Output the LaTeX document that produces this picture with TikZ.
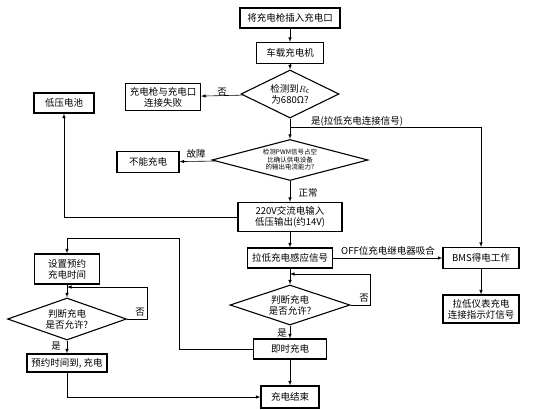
\documentclass[tikz,border=0pt]{standalone}
\usepackage{fontspec}
\usepackage{tikz}
\usetikzlibrary{shapes.geometric, arrows}
\setmainfont{Noto Sans CJK SC}

\begin{document}
\begin{tikzpicture}[
    x=1pt, y=-1pt,
    font=\fontsize{9.5}{11}\selectfont,
    stepbox/.style={rectangle, draw, line width=1.1pt, align=center, inner sep=1pt},
    decision/.style={diamond, draw, line width=1.1pt, align=center, inner sep=0pt},
    arrow/.style={line width=0.6pt,->,>=latex},
    line/.style={line width=0.6pt},
    tag/.style={inner sep=1pt}
]
\useasboundingbox (0,0) rectangle (534,409);

% Main column
\node[stepbox, minimum width=100pt, minimum height=20pt] (plug) at (290,18) {将充电枪插入充电口};
\node[stepbox, minimum width=67pt, minimum height=21pt] (obc) at (290,53) {车载充电机};
\node[decision, aspect=2, minimum width=98pt, minimum height=48pt] (checkrc) at (290,94) {检测到$R_\mathrm{c}$\\为680Ω?};
\node[decision, aspect=3.8, minimum width=156pt, minimum height=41pt, font=\fontsize{6.5}{7.5}\selectfont] (checkpwm) at (290,160) {检测PWM信号占空\\比确认供电设备\\的输出电流能力?};
\node[stepbox, minimum width=104pt, minimum height=29pt] (acin) at (290,217) {220V交流电输入\\低压输出(约14V)};
\node[stepbox, minimum width=85pt, minimum height=20pt] (sense) at (290,258) {拉低充电感应信号};
\node[decision, aspect=3, minimum width=120pt, minimum height=40pt] (allowmid) at (290,305) {判断充电\\是否允许?};
\node[stepbox, minimum width=73pt, minimum height=20pt] (chargenow) at (290,349) {即时充电};
\node[stepbox, minimum width=58pt, minimum height=22pt] (chargeend) at (290,397) {充电结束};

% Side boxes
\node[stepbox, minimum width=75pt, minimum height=27pt] (fail) at (163,97) {充电枪与充电口\\连接失败};
\node[stepbox, minimum width=60pt, minimum height=20pt] (battery) at (64,103) {低压电池};
\node[stepbox, minimum width=62pt, minimum height=21pt] (nocharge) at (148,162) {不能充电};
\node[stepbox, minimum width=76pt, minimum height=21pt] (bms) at (481,258) {BMS得电工作};
\node[stepbox, minimum width=76pt, minimum height=28pt] (lamp) at (481,309) {拉低仪表充电\\连接指示灯信号};

% Left column (reservation)
\node[stepbox, minimum width=65pt, minimum height=30pt] (setres) at (67,269) {设置预约\\充电时间};
\node[decision, aspect=2.8, minimum width=119pt, minimum height=42pt] (allowleft) at (67,319) {判断充电\\是否允许?};
\node[stepbox, minimum width=80pt, minimum height=18pt] (timeup) at (67,363) {预约时间到, 充电};

% Turning points
\coordinate (yesturn) at (290,127);
\coordinate (midloop) at (370,274);
\coordinate (leftloop) at (147,287);
\coordinate (resturn) at (179,238);

% Arrows
\draw[arrow] (plug) -- (obc);
\draw[arrow] (obc) -- (checkrc);
\draw[arrow] (checkrc) -- (fail);
\draw[arrow] (checkrc) -- (checkpwm);
\draw[arrow] (yesturn) -| (bms);
\draw[arrow] (checkpwm) -- (nocharge);
\draw[arrow] (checkpwm) -- (acin);
\draw[arrow] (acin.west) -| (battery.south);
\draw[arrow] (acin) -- (sense);
\draw[arrow] (sense) -- (bms);
\draw[arrow] (bms) -- (lamp);
\draw[arrow] (sense) -- (allowmid);
\draw[arrow] (allowmid.east) -| (midloop) -- (sense.south |- midloop);
\draw[arrow] (allowmid) -- (chargenow);
\draw[arrow] (chargenow) -- (chargeend);
\draw[arrow] (chargenow.west) -| (resturn) -| (setres.north);
\draw[arrow] (setres) -- (allowleft);
\draw[arrow] (allowleft.east) -| (leftloop) -- (setres.south |- leftloop);
\draw[arrow] (allowleft) -- (timeup);
\draw[arrow] (timeup.south) |- (chargeend.west);

% Labels
\node[tag] (nolbl1) at (222,92) {否};
\node[tag, anchor=west] (yeslbl1) at (310,121) {是(拉低充电连接信号)};
\node[tag] (faultlbl) at (196,154) {故障};
\node[tag] (normallbl) at (308,193) {正常};
\node[tag] (offlbl) at (388,251) {OFF位充电继电器吸合};
\node[tag] (nolbl2) at (364,298) {否};
\node[tag] (yeslbl2) at (282,333) {是};
\node[tag] (nolbl3) at (140,312) {否};
\node[tag] (yeslbl3) at (56,346) {是};

\end{tikzpicture}
\end{document}
